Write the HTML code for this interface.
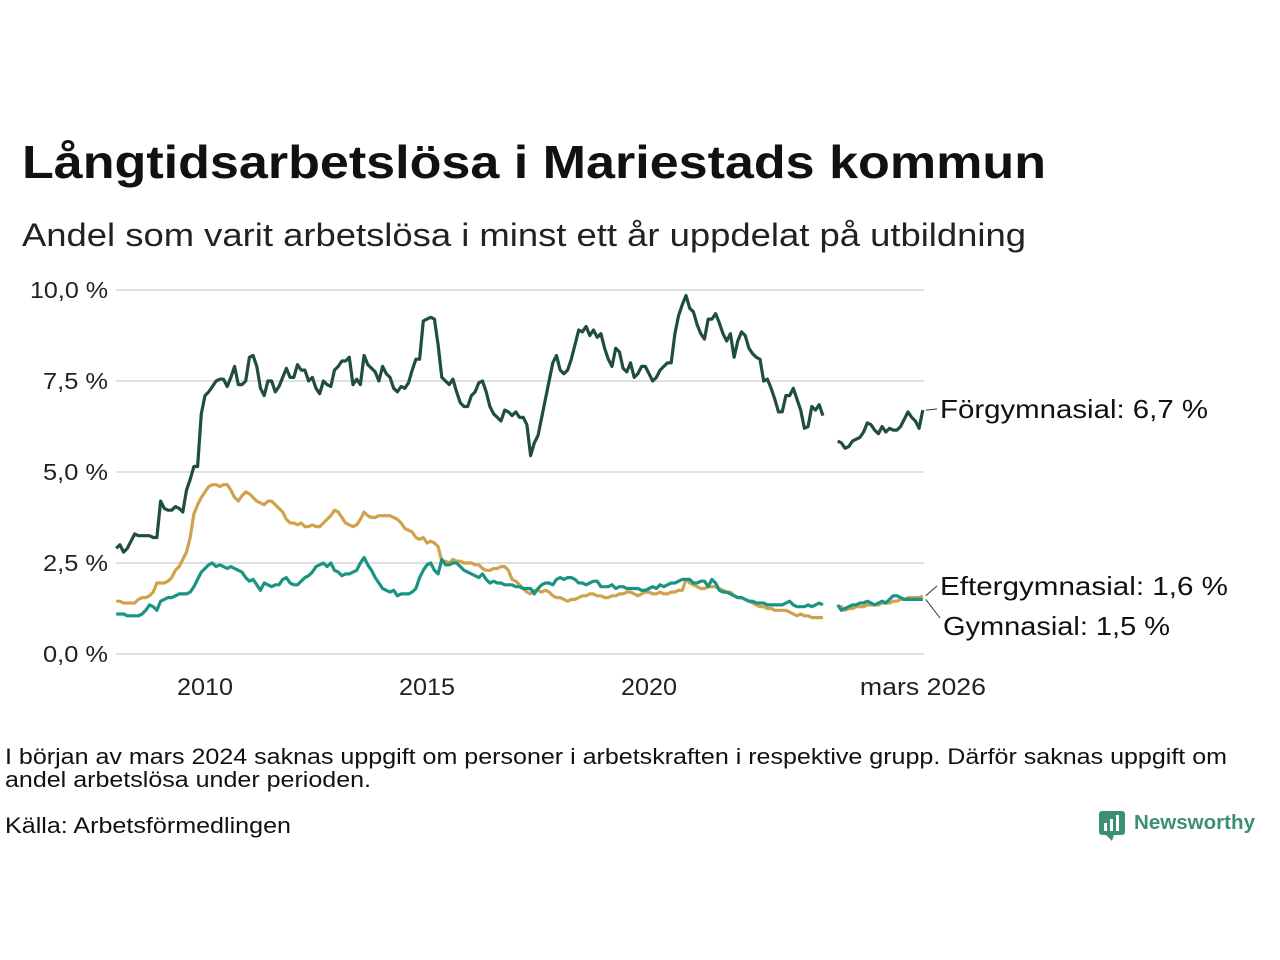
<!DOCTYPE html>
<html><head><meta charset="utf-8"><style>
body{margin:0;background:#fff;}
svg{display:block;font-family:"Liberation Sans","DejaVu Sans",sans-serif;}
</style></head><body>
<svg id="c" width="1280" height="960" viewBox="0 0 1280 960">
<text x="22" y="178" font-size="46" font-weight="bold" fill="#111" textLength="1024" lengthAdjust="spacingAndGlyphs">Långtidsarbetslösa i Mariestads kommun</text>
<text x="22" y="246" font-size="32" fill="#222" textLength="1004" lengthAdjust="spacingAndGlyphs">Andel som varit arbetslösa i minst ett år uppdelat på utbildning</text>
<g id="grid"></g><g id="lines"></g><g id="labels"></g>
<text x="5" y="764" font-size="22" fill="#111" textLength="1222" lengthAdjust="spacingAndGlyphs">I början av mars 2024 saknas uppgift om personer i arbetskraften i respektive grupp. Därför saknas uppgift om</text>
<text x="5" y="787" font-size="22" fill="#111" textLength="366" lengthAdjust="spacingAndGlyphs">andel arbetslösa under perioden.</text>
<text x="5" y="833" font-size="22" fill="#111" textLength="286" lengthAdjust="spacingAndGlyphs">Källa: Arbetsförmedlingen</text>
<g>
<rect x="1099" y="811" width="26" height="24" rx="3" fill="#3d8f74"/>
<polygon points="1106,835 1112,841 1114,835" fill="#3d8f74"/>
<rect x="1104" y="823" width="3" height="8" fill="#fff"/><rect x="1110" y="819" width="3" height="12" fill="#fff"/><rect x="1116" y="815" width="3" height="16" fill="#fff"/>
<text x="1134" y="829" font-size="20" font-weight="bold" fill="#3d8f74" textLength="121" lengthAdjust="spacingAndGlyphs">Newsworthy</text>
</g>
</svg>
<script>
const tickValues=[0,2.5,5,7.5,10];
const tickLabels=["0,0 %","2,5 %","5,0 %","7,5 %","10,0 %"];
const xTickYears=[2010,2015,2020,2026.17];
const xTickLabels=["2010","2015","2020","mars 2026"];
const startYear=2008;
const N=null;
const forgymnasial=[
2.9,3.0,2.8,2.9,3.1,3.3,3.25,3.25,3.25,3.25,3.2,3.2,
4.2,4.0,3.95,3.95,4.05,4.0,3.9,4.5,4.8,5.15,5.15,6.6,
7.1,7.2,7.35,7.5,7.55,7.55,7.35,7.6,7.9,7.4,7.4,7.5,
8.15,8.2,7.9,7.3,7.1,7.5,7.5,7.2,7.35,7.6,7.85,7.6,
7.6,7.95,7.8,7.8,7.5,7.6,7.3,7.15,7.5,7.4,7.35,7.8,
7.9,8.05,8.05,8.15,7.4,7.55,7.4,8.2,7.95,7.85,7.75,7.5,
7.9,7.7,7.6,7.3,7.2,7.35,7.3,7.45,7.8,8.1,8.1,9.15,
9.2,9.25,9.2,8.5,7.6,7.5,7.4,7.55,7.2,6.9,6.8,6.8,
7.1,7.2,7.45,7.5,7.2,6.8,6.6,6.5,6.4,6.7,6.65,6.55,
6.65,6.5,6.5,6.3,5.45,5.8,6.0,6.5,7.0,7.5,8.0,8.2,
7.8,7.7,7.8,8.1,8.5,8.9,8.85,9.0,8.75,8.9,8.7,8.8,
8.4,8.1,7.9,8.4,8.3,7.85,7.75,8.0,7.6,7.7,7.9,7.9,
7.7,7.5,7.6,7.8,7.9,8.0,8.0,8.8,9.3,9.6,9.85,9.5,
9.4,9.05,8.8,8.65,9.2,9.2,9.35,9.1,8.8,8.6,8.8,8.15,
8.6,8.85,8.75,8.4,8.25,8.15,8.1,7.5,7.55,7.3,7.0,6.65,
6.65,7.1,7.1,7.3,7.0,6.7,6.2,6.25,6.8,6.7,6.85,6.55,
N,N,N,5.85,5.8,5.65,5.7,5.85,5.9,5.95,6.1,6.35,
6.3,6.15,6.05,6.25,6.1,6.2,6.15,6.15,6.25,6.45,6.65,6.5,
6.4,6.2,6.7];
const eftergymnasial=[
1.45,1.45,1.4,1.4,1.4,1.4,1.5,1.55,1.55,1.6,1.7,1.95,
1.95,1.95,2.0,2.1,2.3,2.4,2.6,2.8,3.2,3.85,4.1,4.3,
4.45,4.6,4.65,4.65,4.6,4.65,4.65,4.5,4.3,4.2,4.35,4.45,
4.4,4.3,4.2,4.15,4.1,4.2,4.2,4.1,4.0,3.9,3.7,3.6,
3.6,3.55,3.6,3.5,3.5,3.55,3.5,3.5,3.6,3.7,3.8,3.95,
3.9,3.75,3.6,3.55,3.5,3.55,3.7,3.9,3.8,3.75,3.75,3.8,
3.8,3.8,3.8,3.75,3.7,3.6,3.45,3.4,3.35,3.2,3.15,3.2,
3.05,3.1,3.05,2.95,2.55,2.55,2.5,2.6,2.55,2.55,2.5,2.5,
2.5,2.45,2.45,2.35,2.3,2.3,2.35,2.35,2.4,2.4,2.3,2.05,
2.0,1.9,1.8,1.7,1.65,1.75,1.75,1.7,1.75,1.7,1.6,1.55,
1.55,1.5,1.45,1.5,1.5,1.55,1.6,1.6,1.65,1.65,1.6,1.6,
1.55,1.55,1.6,1.6,1.65,1.65,1.7,1.7,1.65,1.6,1.65,1.7,
1.7,1.65,1.65,1.7,1.65,1.65,1.7,1.7,1.75,1.75,2.05,1.95,
1.9,1.85,1.8,1.8,1.85,1.85,1.85,1.8,1.75,1.7,1.7,1.6,
1.55,1.55,1.5,1.45,1.4,1.35,1.3,1.3,1.25,1.25,1.2,1.2,
1.2,1.2,1.15,1.1,1.05,1.1,1.05,1.05,1.0,1.0,1.0,1.0,
N,N,N,1.3,1.3,1.2,1.25,1.25,1.3,1.3,1.3,1.35,
1.35,1.35,1.35,1.4,1.4,1.4,1.45,1.45,1.5,1.5,1.55,1.55,
1.55,1.55,1.6];
const gymnasial=[
1.1,1.1,1.1,1.05,1.05,1.05,1.05,1.1,1.2,1.35,1.3,1.2,
1.45,1.5,1.55,1.55,1.6,1.65,1.65,1.65,1.7,1.85,2.05,2.25,
2.35,2.45,2.5,2.4,2.45,2.4,2.35,2.4,2.35,2.3,2.25,2.1,
2.0,2.05,1.9,1.75,1.95,1.9,1.85,1.9,1.9,2.05,2.1,1.95,
1.9,1.9,2.0,2.1,2.15,2.25,2.4,2.45,2.5,2.4,2.5,2.3,
2.25,2.15,2.2,2.2,2.25,2.3,2.5,2.65,2.45,2.3,2.1,1.95,
1.8,1.75,1.7,1.75,1.6,1.65,1.65,1.65,1.7,1.8,2.1,2.3,
2.45,2.5,2.3,2.2,2.6,2.45,2.45,2.5,2.5,2.4,2.3,2.25,
2.2,2.15,2.1,2.2,2.05,1.95,2.0,1.95,1.95,1.9,1.9,1.9,
1.85,1.85,1.8,1.8,1.8,1.65,1.8,1.9,1.95,1.95,1.9,2.05,
2.1,2.05,2.1,2.1,2.05,1.95,1.95,1.9,1.95,2.0,2.0,1.85,
1.85,1.85,1.9,1.8,1.85,1.85,1.8,1.8,1.8,1.8,1.75,1.75,
1.8,1.85,1.8,1.9,1.85,1.9,1.95,1.95,2.0,2.05,2.05,2.05,
1.95,1.95,2.0,2.0,1.85,2.05,1.95,1.75,1.7,1.7,1.65,1.6,
1.55,1.55,1.5,1.45,1.45,1.4,1.4,1.4,1.35,1.35,1.35,1.35,
1.35,1.4,1.45,1.35,1.3,1.3,1.3,1.35,1.3,1.35,1.4,1.35,
N,N,N,1.35,1.2,1.25,1.3,1.35,1.35,1.4,1.4,1.45,
1.4,1.35,1.4,1.45,1.4,1.5,1.6,1.6,1.55,1.5,1.5,1.5,
1.5,1.5,1.5];
const NS="http://www.w3.org/2000/svg";
function X(year){return 205+(year-2010)*44.4;}
function Y(v){return 654-v*36.4;}
function mk(tag,attrs,parent){const e=document.createElementNS(NS,tag);for(const k in attrs)e.setAttribute(k,attrs[k]);parent.appendChild(e);return e;}
const grid=document.getElementById('grid');
tickValues.forEach((v,i)=>{
  const l=mk('line',{x1:116,x2:924,y1:Y(v),y2:Y(v),stroke:'#e0e0e0','stroke-width':2},grid);
  
  
  const t=mk('text',{x:108,y:Y(v)+8,'font-size':23,'text-anchor':'end',fill:'#222',textLength:(tickLabels[i].length*13),lengthAdjust:'spacingAndGlyphs'},grid);
  t.textContent=tickLabels[i];
  
  
});
xTickYears.forEach((yr,i)=>{
  const t=mk('text',{x:X(yr),y:695,'font-size':24,'text-anchor':'middle',fill:'#222',textLength:(xTickLabels[i].length*14),lengthAdjust:'spacingAndGlyphs'},grid);
  t.textContent=xTickLabels[i];
  
  
});
function draw(arr,color,name){
  let d='',pen=false;
  arr.forEach((v,i)=>{
    if(v===null){pen=false;return;}
    const x=X(startYear+i/12),y=Y(v);
    d+=(pen?'L':'M')+x.toFixed(1)+' '+y.toFixed(1);pen=true;
  });
  const p=mk('path',{d:d,fill:'none',stroke:color,'stroke-width':3.2,'stroke-linejoin':'round'},document.getElementById('lines'));
  
  
}
draw(eftergymnasial,'#d0a24d','eftergymnasial-line');
draw(gymnasial,'#1a9482','gymnasial-line');
draw(forgymnasial,'#1f4d3f','forgymnasial-line');
const lab=document.getElementById('labels');
const lastX=X(startYear+(forgymnasial.length-1)/12);
[[forgymnasial,'Förgymnasial: 6,7 %',409,'forgymnasial-label',268],[eftergymnasial,'Eftergymnasial: 1,6 %',586,'eftergymnasial-label',288],[gymnasial,'Gymnasial: 1,5 %',626,'gymnasial-label',227]].forEach(([arr,txt,ly,name,w])=>{
  const vy=Y(arr[arr.length-1]);
  const lx=name==='gymnasial-label'?943:940;
  const ln=mk('line',{x1:lastX+3,y1:vy,x2:lx-3,y2:name==='gymnasial-label'?ly-8:ly,stroke:'#333','stroke-width':1},lab);
  
  
  const t=mk('text',{x:lx,y:ly+9,'font-size':26,fill:'#111',textLength:w,lengthAdjust:'spacingAndGlyphs'},lab);
  t.textContent=txt;
  
  
});
</script>
</body></html>
